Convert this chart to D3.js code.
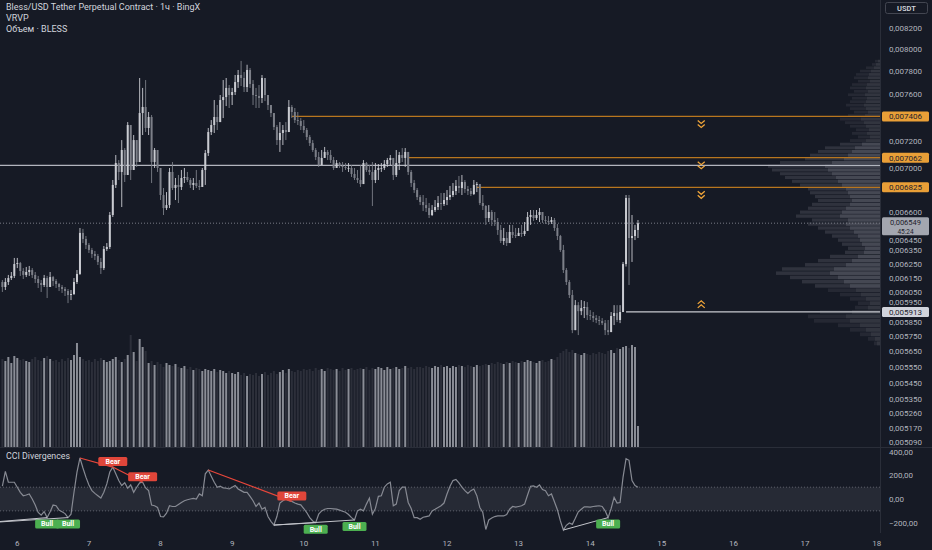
<!DOCTYPE html>
<html>
<head>
<meta charset="utf-8">
<script src="https://cdn.jsdelivr.net/npm/d3@7"></script>
<style>
  html, body { margin: 0; padding: 0; background: #161a25; }
  svg { display: block; font-family: Roboto, "Noto Sans", sans-serif; }
</style>
</head>
<body>
<script>
const width = 932;
const height = 550;

// hourly candles, first one at day 5 19:00, prices in 1e-6 USDT
const startDay = 5 + 19 / 24;
const firstOpen = 6120;

const closes = [
  6085, 6120, 6148, 6163, 6248, 6255, 6198, 6170, 6191, 6205,
  6170, 6141, 6113, 6099, 6148, 6085, 6155, 6127, 6106, 6085,
  6071, 6057, 6029, 6036, 6120, 6177, 6476, 6431, 6387, 6350,
  6321, 6306, 6263, 6219, 6357, 6372, 6611, 6844, 7019, 6947,
  7125, 6923, 7333, 6963, 7207, 7027, 7435, 7487, 7308, 7401,
  7027, 7125, 6979, 6765, 6664, 6687, 6947, 6820, 6844, 6828,
  6899, 6907, 6883, 6844, 6859, 6836, 6828, 6963, 7100, 7274,
  7333, 7401, 7358, 7547, 7573, 7653, 7591, 7617, 7705, 7768,
  7741, 7661, 7813, 7688, 7591, 7582, 7565, 7741, 7591, 7504,
  7435, 7316, 7207, 7266, 7291, 7274, 7487, 7444, 7375, 7367,
  7325, 7291, 7232, 7182, 7125, 7068, 7003, 7060, 7109, 7084,
  7043, 6979, 7019, 6995, 6987, 6979, 6979, 6931, 6899, 6883,
  6851, 7019, 6963, 6947, 6883, 6963, 6979, 6979, 7011, 7043,
  7060, 6923, 7019, 7084, 7060, 7109, 6947, 6859, 6804, 6749,
  6711, 6687, 6664, 6611, 6649, 6672, 6703, 6695, 6726, 6749,
  6765, 6796, 6836, 6820, 6867, 6812, 6796, 6773, 6844, 6851,
  6703, 6680, 6588, 6634, 6573, 6558, 6498, 6416, 6438, 6401,
  6483, 6461, 6453, 6476, 6468, 6491, 6596, 6611, 6588, 6611,
  6634, 6573, 6566, 6558, 6573, 6513, 6453, 6350, 6205, 6120,
  6029, 5790, 5959, 5918, 5939, 5946, 5891, 5885, 5871, 5858,
  5851, 5837, 5790, 5777, 5885, 5905, 5858, 5912, 6248, 6742,
  6438, 6453, 6498, 6549
];

const highs = [
  6134, 6148, 6170, 6191, 6292, 6292, 6263, 6219, 6227, 6234,
  6219, 6191, 6163, 6134, 6170, 6163, 6191, 6163, 6141, 6113,
  6099, 6085, 6071, 6064, 6148, 6205, 6513, 6506, 6453, 6401,
  6365, 6343, 6321, 6292, 6379, 6401, 6634, 6883, 7084, 7043,
  7207, 7141, 7358, 7333, 7249, 7207, 7741, 7653, 7723, 7444,
  7418, 7141, 7125, 6979, 6820, 6788, 6979, 7027, 6899, 6923,
  6963, 6979, 6947, 6899, 6899, 6963, 6883, 6979, 7125, 7308,
  7375, 7547, 7504, 7591, 7723, 7741, 7679, 7653, 7768, 7813,
  7895, 7795, 7860, 7831, 7723, 7653, 7679, 7768, 7679, 7591,
  7504, 7418, 7333, 7358, 7333, 7358, 7547, 7504, 7478, 7444,
  7392, 7375, 7308, 7249, 7207, 7141, 7109, 7125, 7150, 7125,
  7125, 7068, 7043, 7027, 7027, 7019, 7019, 7003, 6979, 6963,
  7003, 7043, 7027, 7003, 7027, 7019, 7011, 7019, 7043, 7060,
  7084, 7060, 7125, 7109, 7141, 7141, 7109, 6963, 6883, 6820,
  6765, 6765, 6742, 6703, 6687, 6726, 6757, 6781, 6781, 6804,
  6836, 6859, 6883, 6915, 6923, 6883, 6836, 6820, 6883, 6867,
  6820, 6765, 6687, 6687, 6649, 6634, 6588, 6536, 6513, 6483,
  6536, 6536, 6513, 6513, 6536, 6558, 6634, 6649, 6649, 6649,
  6664, 6626, 6603, 6603, 6596, 6588, 6543, 6461, 6387, 6219,
  6134, 6064, 5994, 5980, 5994, 5987, 5980, 5925, 5912, 5891,
  5885, 5871, 5858, 5858, 5912, 5959, 5959, 5959, 6263, 6765,
  6765, 6611, 6536, 6573
];

const lows = [
  6050, 6064, 6099, 6134, 6148, 6219, 6163, 6141, 6155, 6163,
  6148, 6113, 6078, 6050, 6085, 6008, 6106, 6092, 6078, 6057,
  6043, 6022, 5973, 5994, 6029, 6106, 6170, 6401, 6357, 6328,
  6292, 6277, 6241, 6177, 6205, 6343, 6357, 6596, 6820, 6883,
  6672, 6867, 6947, 6883, 6963, 6987, 7125, 7249, 7274, 7249,
  6859, 6979, 6947, 6726, 6611, 6649, 6664, 6804, 6726, 6703,
  6804, 6859, 6867, 6820, 6804, 6820, 6804, 6828, 6844, 7076,
  7249, 7266, 7291, 7358, 7392, 7495, 7478, 7504, 7591, 7653,
  7670, 7617, 7617, 7653, 7504, 7478, 7478, 7521, 7538, 7461,
  7401, 7291, 7166, 7109, 7166, 7207, 7333, 7392, 7350, 7333,
  7291, 7266, 7207, 7158, 7109, 7043, 6987, 7027, 7060, 7043,
  7019, 6963, 6987, 6979, 6947, 6963, 6947, 6907, 6883, 6859,
  6828, 6899, 6947, 6923, 6680, 6859, 6883, 6947, 6963, 6987,
  7003, 6883, 6907, 6963, 7027, 6987, 6923, 6828, 6781, 6726,
  6687, 6641, 6634, 6588, 6603, 6634, 6649, 6649, 6680, 6687,
  6726, 6749, 6765, 6781, 6765, 6781, 6765, 6757, 6765, 6788,
  6687, 6649, 6536, 6558, 6528, 6528, 6461, 6401, 6387, 6379,
  6423, 6438, 6438, 6453, 6446, 6453, 6513, 6536, 6566, 6573,
  6558, 6551, 6543, 6536, 6543, 6491, 6423, 6336, 6184, 6099,
  6008, 5770, 5790, 5757, 5891, 5871, 5858, 5858, 5844, 5837,
  5824, 5824, 5757, 5757, 5810, 5824, 5844, 5837, 5912, 6230,
  6099, 6263, 6423, 6438
];

// volume per candle, thousands
const volumes = [
  88, 86, 90, 84, 91, 89, 87, 88, 86, 85, 88, 90, 87, 86, 89, 91, 88, 86, 87, 85,
  88, 86, 89, 87, 92, 104,
  90, 88, 86, 87, 85, 88, 86, 89, 87, 85, 86, 88, 90, 87, 85, 88,
  92, 112, 95, 86, 108, 100, 96,
  84, 86, 82, 85, 83, 80, 84, 82, 81, 83,
  80, 79, 81, 78, 80, 77, 79, 78, 76, 78, 77, 76, 78, 75, 77, 76, 74, 76,
  74, 73, 75, 72, 74, 71, 73, 72, 74, 71, 73, 75, 72,
  74, 76, 73, 75, 77, 74, 78, 76, 75, 77, 76, 78,
  77, 78, 76, 79, 77, 78, 76, 79, 78, 77, 78, 76, 79, 77, 78, 79, 77, 78,
  79, 78, 80, 77, 79, 78, 80, 79, 77, 80, 78, 79, 80, 78, 79, 81, 79, 80, 78, 80,
  80, 79, 81, 80, 79, 81, 80, 82, 80, 81, 79, 81, 80, 82, 81, 80, 82, 81, 80, 82, 81,
  82, 83, 82, 84, 83, 85, 84, 83, 85, 84, 86, 85, 84, 86, 85, 87, 86, 85, 84, 86, 87, 85, 86, 88, 87,
  90, 94, 96, 98, 95, 97, 94, 93, 92, 94, 93, 92, 94,
  93, 95, 94, 93, 96, 97, 94, 99, 98, 100, 101, 99, 102, 100,
  21
];

const cciValues = [
  110, 233, 142, 142, 142, 100, 57, 28, 34, 43,
  0, -51, -114, -137, -106, -157, -108, -51, -57, -94,
  -108, -123, -157, -128, 57, 228, 347, 262, 185, 119,
  71, 48, 28, 8, 57, 128, 228, 270, 213, 156,
  114, 137, 91, 119, 57, 100, 137, 142, 94, 71,
  -51, -57, -71, -148, -151, -120, -57, -63, -63, -46,
  -29, -14, -6, 0, 6, 0, 43, 28, 213, 245,
  193, 142, 100, 108, 94, 91, 85, 100, 114, 85,
  71, 57, 57, 23, -14, -63, -34, -86, -71, -148,
  -188, -220, -148, -34, -14, 0, -14, -20, -34, -43,
  -49, -80, -114, -157, -185, -200, -128, -100, -86, -80,
  -80, -83, -86, -94, -103, -111, -131, -157, -177, -100,
  -86, -100, -43, 8, -128, -80, 23, 28, 100, 128,
  142, -57, -43, 71, 100, 100, -29, -80, -157, -157,
  -171, -154, -148, -143, -100, -86, -71, -57, -34, 43,
  108, 156, 165, 137, 100, 71, 48, 71, 85, 28,
  -71, -114, -257, -177, -160, -148, -143, -143, -143, -131,
  -86, -63, -69, -63, -57, -43, 34, 108, 111, 100,
  119, 80, 71, 28, 43, -23, -91, -185, -262, -222,
  -203, -214, -163, -108, -86, -66, -66, -69, -63, -60,
  -57, -63, -100, -157, -80, 14, -34, -29, 185, 341,
  327, 156, 114, 100
];

// divergences: [from index, from cci, to index, to cci]
const bearDivs = [[26, 347, 37, 270], [37, 270, 47, 142], [69, 245, 97, -20]];
const bullDivs = [[-8, -205, 15, -157], [-8, -205, 22, -157], [91, -220, 105, -200], [91, -220, 118, -177], [188, -262, 203, -157]];

// visible range volume profile, rows of 30 from 5700
const profileStart = 5700;
const profileStep = 30;
const profileTotal = [
  6, 12, 20, 30, 42, 66, 72, 60, 25, 22,
  30, 40, 52, 65, 78, 90, 104, 98, 75, 62,
  50, 35, 32, 38, 42, 48, 55, 62, 72, 68,
  84, 80, 72, 68, 62, 65, 70, 72, 80, 88,
  95, 100, 108, 112, 100, 75, 70, 62, 55, 40,
  30, 22, 28, 24, 30, 35, 40, 32, 26, 30,
  34, 30, 28, 32, 26, 30, 28, 22, 26, 24,
  20, 14, 8, 5
];
const profileUp = [
  3, 5, 9, 14, 20, 30, 34, 28, 12, 10,
  14, 19, 24, 30, 36, 42, 50, 46, 34, 28,
  22, 16, 15, 18, 20, 22, 26, 30, 34, 32,
  40, 38, 34, 30, 28, 30, 32, 34, 38, 42,
  44, 48, 52, 55, 48, 36, 32, 28, 25, 18,
  14, 10, 13, 11, 14, 16, 19, 15, 12, 14,
  16, 14, 13, 15, 12, 14, 13, 10, 12, 11,
  9, 6, 4, 2
];

const priceTicks = [8200, 8000, 7800, 7600, 7200, 7000, 6600, 6450, 6350, 6250, 6150,
  6050, 5950, 5850, 5750, 5650, 5550, 5450, 5350, 5260, 5170, 5090];
const resistances = [7406, 7062, 6825];
const resistanceFrom = [97, 136, 159];
const support = 5913;
const supportFrom = 209;
const roundLevel = 7000;
const lastPrice = 6549;
const countdown = '45:24';
const signalDay = 15.55;
const dayTicks = [6, 7, 8, 9, 10, 11, 12, 13, 14, 15, 16, 17, 18];
const cciTicks = [400, 200, 0, -200];

const axisX = 880;
const mainBottom = 447;
const cciTop = 448;
const cciBottom = 533;

const bg = '#161a25';
const textColor = '#d1d4dc';
const axisText = '#b2b5be';
const orange = '#b8761f';
const orangeBox = '#e99f37';

const svg = d3.select('body')
  .append('svg')
  .attr('width', width)
  .attr('height', height);

svg.append('rect').attr('width', width).attr('height', height).attr('fill', bg);

const x = d3.scaleLinear().domain([6, 18]).range([17.3, 876.7]);
const y = d3.scaleLog().domain([8200, 5090]).range([28, 442]);
const volY = d3.scaleLinear().domain([0, 120]).range([mainBottom, mainBottom - 120]);
const cciY = d3.scaleLinear().domain([400, -200]).range([451.7, 522.7]);
const profW = d3.scaleLinear().domain([0, d3.max(profileTotal)]).range([0, 112]);

const dayOf = i => startDay + i / 24;
const fmtPrice = v => (v / 1e6).toFixed(6).replace('.', ',');

const defs = svg.append('defs');
defs.append('clipPath').attr('id', 'mainClip')
  .append('rect').attr('x', 0).attr('y', 0).attr('width', axisX).attr('height', mainBottom);
defs.append('clipPath').attr('id', 'cciClip')
  .append('rect').attr('x', 0).attr('y', cciTop).attr('width', axisX).attr('height', cciBottom - cciTop);

const candles = closes.map((c, i) => {
  const o = i ? closes[i - 1] : firstOpen;
  return {
    i, o, c,
    h: Math.max(highs[i], o, c),
    l: Math.min(lows[i], o, c),
    v: volumes[i],
    up: c >= o
  };
});

const main = svg.append('g').attr('clip-path', 'url(#mainClip)');

// volume
main.append('g').selectAll('rect')
  .data(candles)
  .join('rect')
  .attr('x', d => x(dayOf(d.i)) - 1)
  .attr('width', 2)
  .attr('y', d => volY(d.v))
  .attr('height', d => volY(0) - volY(d.v))
  .attr('fill', d => d.up ? '#8a8d96' : '#2c2f3a');

// volume profile with value area
const rows = profileTotal.map((v, k) => ({ p: profileStart + k * profileStep, total: v, up: profileUp[k] }));
const totalVol = d3.sum(profileTotal);
let lo = d3.maxIndex(profileTotal), hi = lo, acc = profileTotal[lo];
while (acc < totalVol * 0.7) {
  const below = lo > 0 ? profileTotal[lo - 1] : -1;
  const above = hi < rows.length - 1 ? profileTotal[hi + 1] : -1;
  if (above >= below) { hi++; acc += above; } else { lo--; acc += below; }
}
rows.forEach((r, k) => { r.inVA = k >= lo && k <= hi; });

const rowTop = d => y(d.p + profileStep / 2);
const rowH = d => Math.max(0.6, y(d.p - profileStep / 2) - y(d.p + profileStep / 2) - 0.7);
const prof = main.append('g');
prof.selectAll('rect.tot')
  .data(rows)
  .join('rect')
  .attr('class', 'tot')
  .attr('x', d => axisX - profW(d.total))
  .attr('width', d => profW(d.total))
  .attr('y', rowTop)
  .attr('height', rowH)
  .attr('fill', d => d.inVA ? '#2f323d' : '#252833');
prof.selectAll('rect.up')
  .data(rows)
  .join('rect')
  .attr('class', 'up')
  .attr('x', d => axisX - profW(d.up))
  .attr('width', d => profW(d.up))
  .attr('y', rowTop)
  .attr('height', rowH)
  .attr('fill', d => d.inVA ? '#454853' : '#32353f');

// levels
main.append('line')
  .attr('x1', 0).attr('x2', axisX)
  .attr('y1', y(roundLevel)).attr('y2', y(roundLevel))
  .attr('stroke', '#b2b5be').attr('stroke-width', 1.3);

main.append('line')
  .attr('x1', 0).attr('x2', axisX)
  .attr('y1', y(lastPrice)).attr('y2', y(lastPrice))
  .attr('stroke', '#787b86').attr('stroke-width', 1).attr('stroke-dasharray', '1,2');

main.append('g').selectAll('line')
  .data(resistances)
  .join('line')
  .attr('x1', (d, k) => x(dayOf(resistanceFrom[k])))
  .attr('x2', axisX)
  .attr('y1', d => y(d)).attr('y2', d => y(d))
  .attr('stroke', orange).attr('stroke-width', 1.2);

main.append('line')
  .attr('x1', x(dayOf(supportFrom))).attr('x2', axisX)
  .attr('y1', y(support)).attr('y2', y(support))
  .attr('stroke', '#c8cad0').attr('stroke-width', 1.2);

// chevrons
const chev = (cx, cy, dir) => {
  const p = d3.path();
  [0, 4].forEach(off => {
    const yy = cy + dir * off;
    p.moveTo(cx - 3.5, yy);
    p.lineTo(cx, yy + dir * 3);
    p.lineTo(cx + 3.5, yy);
  });
  return p.toString();
};
main.append('g').selectAll('path')
  .data(resistances)
  .join('path')
  .attr('d', d => chev(x(signalDay), y(d) + 4, 1))
  .attr('fill', 'none').attr('stroke', '#f0a53a').attr('stroke-width', 1.3);
main.append('path')
  .attr('d', chev(x(signalDay), y(support) - 4, -1))
  .attr('fill', 'none').attr('stroke', '#f0a53a').attr('stroke-width', 1.3);

// candles
const cg = main.append('g');
cg.selectAll('line')
  .data(candles)
  .join('line')
  .attr('x1', d => x(dayOf(d.i))).attr('x2', d => x(dayOf(d.i)))
  .attr('y1', d => y(d.h)).attr('y2', d => y(d.l))
  .attr('stroke', d => d.up ? '#c9cbd1' : '#7c7f88').attr('stroke-width', 0.9);
cg.selectAll('rect')
  .data(candles)
  .join('rect')
  .attr('x', d => x(dayOf(d.i)) - 1)
  .attr('width', 2)
  .attr('y', d => y(Math.max(d.o, d.c)))
  .attr('height', d => Math.max(0.8, Math.abs(y(d.o) - y(d.c))))
  .attr('fill', d => d.up ? '#c9cbd1' : '#7c7f88');

// pane separators
svg.append('line').attr('x1', 0).attr('x2', width).attr('y1', mainBottom + 0.5).attr('y2', mainBottom + 0.5)
  .attr('stroke', '#2a2e39');
svg.append('line').attr('x1', axisX + 0.5).attr('x2', axisX + 0.5).attr('y1', 0).attr('y2', cciBottom)
  .attr('stroke', '#2a2e39');

// CCI pane
const cci = svg.append('g').attr('clip-path', 'url(#cciClip)');
cci.append('rect')
  .attr('x', 0).attr('width', axisX)
  .attr('y', cciY(100)).attr('height', cciY(-100) - cciY(100))
  .attr('fill', '#262a35');
[100, -100].forEach(v => {
  cci.append('line')
    .attr('x1', 0).attr('x2', axisX)
    .attr('y1', cciY(v)).attr('y2', cciY(v))
    .attr('stroke', '#5d606b').attr('stroke-dasharray', '1,2');
});

cci.append('path')
  .datum(cciValues)
  .attr('fill', 'none')
  .attr('stroke', '#878a93')
  .attr('stroke-width', 1.2)
  .attr('d', d3.line().x((d, i) => x(dayOf(i))).y(d => cciY(d)));

cci.append('g').selectAll('line')
  .data(bullDivs)
  .join('line')
  .attr('x1', d => x(dayOf(d[0]))).attr('y1', d => cciY(d[1]))
  .attr('x2', d => x(dayOf(d[2]))).attr('y2', d => cciY(d[3]))
  .attr('stroke', '#c3c5cb').attr('stroke-width', 1);
cci.append('g').selectAll('line')
  .data(bearDivs)
  .join('line')
  .attr('x1', d => x(dayOf(d[0]))).attr('y1', d => cciY(d[1]))
  .attr('x2', d => x(dayOf(d[2]))).attr('y2', d => cciY(d[3]))
  .attr('stroke', '#e8473b').attr('stroke-width', 1.2);

const tag = (g, cx, top, w, fill, txt) => {
  g.append('rect').attr('x', cx - w / 2).attr('y', top).attr('width', w).attr('height', 9)
    .attr('rx', 1.5).attr('fill', fill);
  g.append('text').attr('x', cx).attr('y', top + 6.8).attr('text-anchor', 'middle')
    .attr('font-size', 7).attr('font-weight', 700).attr('fill', '#ffffff').text(txt);
};
const tags = svg.append('g');
bearDivs.forEach(d => tag(tags, x(dayOf(d[2])), cciY(d[3]) - 10, 29, '#e0463a', 'Bear'));
bullDivs.forEach(d => tag(tags, x(dayOf(d[2])), cciY(d[3]) + 2, 24, '#4caf50', 'Bull'));

svg.append('text').attr('x', 6).attr('y', 458.5).attr('font-size', 8.8).attr('fill', textColor)
  .text('CCI Divergences');

// CCI axis
svg.append('g').selectAll('text')
  .data(cciTicks)
  .join('text')
  .attr('x', 889).attr('y', d => cciY(d) + 3)
  .attr('font-size', 8).attr('fill', axisText)
  .text(d => (d < 0 ? '\u2212' : '') + Math.abs(d).toFixed(2).replace('.', ','));

// price axis labels, nudged clear of the level boxes
const boxes = resistances.map(v => [y(v) - 5, y(v) + 5])
  .concat([[y(support) - 5, y(support) + 5], [y(lastPrice) - 6, y(lastPrice) + 12]]);
const tickY = v => {
  let c = y(v);
  boxes.forEach(([t, b]) => {
    if (c > t - 5 && c <= (t + b) / 2) c = t - 5;
    else if (c < b + 5 && c > (t + b) / 2) c = b + 5;
  });
  return c;
};
svg.append('g').selectAll('text')
  .data(priceTicks)
  .join('text')
  .attr('x', 889).attr('y', d => tickY(d) + 3)
  .attr('font-size', 8).attr('fill', axisText)
  .text(fmtPrice);

const box = (v, fill, txtFill) => {
  svg.append('rect').attr('x', 882).attr('y', y(v) - 5).attr('width', 47).attr('height', 10)
    .attr('rx', 1.5).attr('fill', fill);
  svg.append('text').attr('x', 905.5).attr('y', y(v) + 3).attr('text-anchor', 'middle')
    .attr('font-size', 8).attr('fill', txtFill).text(fmtPrice(v));
};
resistances.forEach(v => box(v, orangeBox, '#1e222d'));
box(support, '#d1d4dc', '#1e222d');

svg.append('rect').attr('x', 882).attr('y', y(lastPrice) - 6).attr('width', 47).attr('height', 18)
  .attr('rx', 1.5).attr('fill', '#a3a6af');
svg.append('text').attr('x', 905.5).attr('y', y(lastPrice) + 2).attr('text-anchor', 'middle')
  .attr('font-size', 7.5).attr('fill', '#1e222d').text(fmtPrice(lastPrice));
svg.append('text').attr('x', 905.5).attr('y', y(lastPrice) + 10.5).attr('text-anchor', 'middle')
  .attr('font-size', 6.5).attr('fill', '#1e222d').text(countdown);

svg.append('rect').attr('x', 885.5).attr('y', 2.5).attr('width', 42).attr('height', 11)
  .attr('rx', 2).attr('fill', bg).attr('stroke', '#434651');
svg.append('text').attr('x', 906.5).attr('y', 10.8).attr('text-anchor', 'middle')
  .attr('font-size', 7.5).attr('font-weight', 600).attr('fill', textColor).text('USDT');

// time axis
svg.append('g').selectAll('text')
  .data(dayTicks)
  .join('text')
  .attr('x', d => x(d)).attr('y', 546)
  .attr('text-anchor', 'middle')
  .attr('font-size', 8).attr('fill', axisText)
  .text(d => d);

// legend
const legend = ['Bless/USD Tether Perpetual Contract \u00b7 1\u0447 \u00b7 BingX', 'VRVP', '\u041e\u0431\u044a\u0435\u043c \u00b7 BLESS'];
svg.append('g').selectAll('text')
  .data(legend)
  .join('text')
  .attr('x', 6).attr('y', (d, k) => 10 + k * 10.8)
  .attr('font-size', 9).attr('fill', textColor)
  .text(d => d);
</script>
</body>
</html>
